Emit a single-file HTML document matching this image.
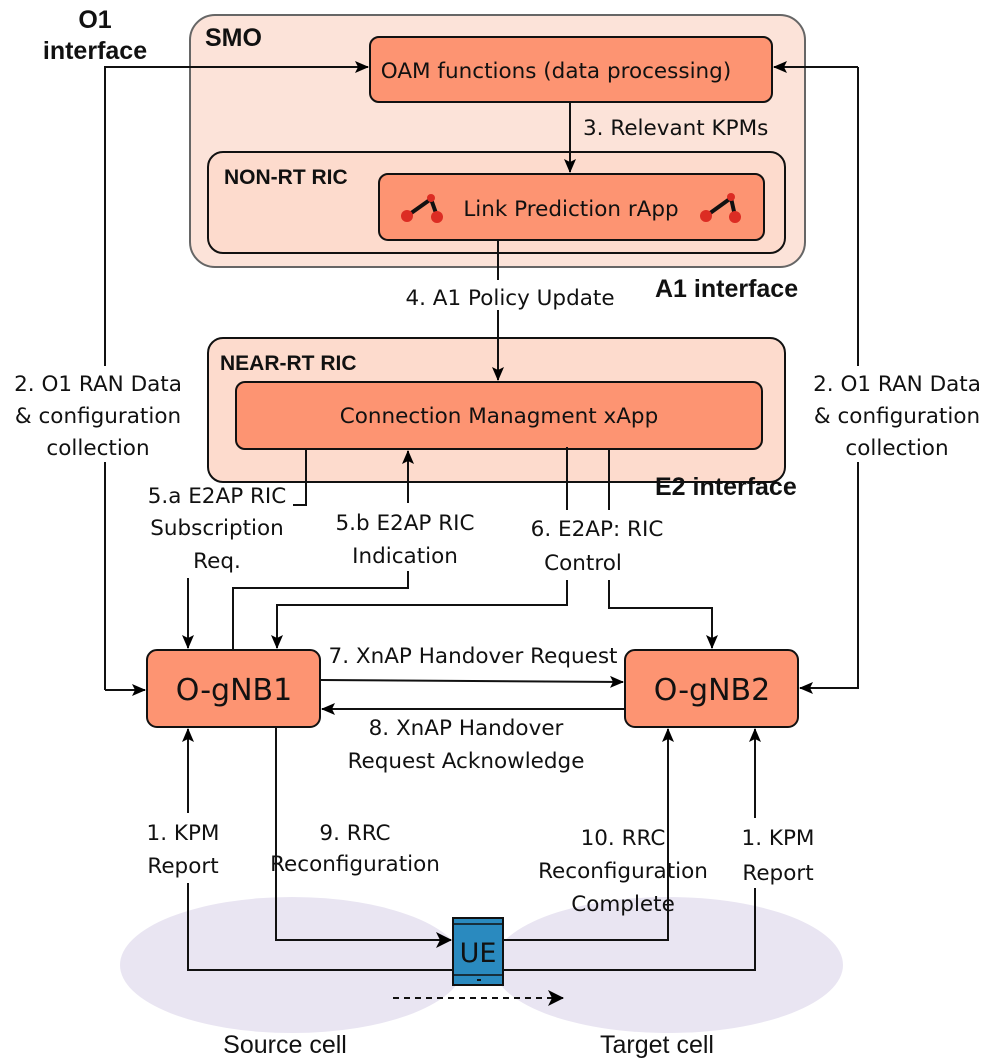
<!DOCTYPE html>
<html><head><meta charset="utf-8"><style>
html,body{margin:0;padding:0;background:#fff}
svg{display:block}
text{font-family:"DejaVu Sans","Liberation Sans",sans-serif;font-size:21.5px;fill:#111}
.b{font-family:"Liberation Sans",sans-serif;font-weight:bold;font-size:25px}
.c{text-anchor:middle}
.w{font-family:"Liberation Sans",sans-serif;font-size:25px}
</style></head><body>
<svg width="996" height="1061" viewBox="0 0 996 1061" xmlns="http://www.w3.org/2000/svg">
<defs>
<marker id="a" markerWidth="14" markerHeight="14" refX="13" refY="7" orient="auto" markerUnits="userSpaceOnUse"><path d="M0,1 L14,7 L0,13 L3,7 z" fill="#000"/></marker>
<marker id="h" markerWidth="16" markerHeight="16" refX="15" refY="8" orient="auto" markerUnits="userSpaceOnUse"><path d="M0,0 L16,8 L0,16 L4,8 z" fill="#000"/></marker>
</defs>
<ellipse cx="292" cy="965" rx="172" ry="68" fill="#e9e5f2"/>
<ellipse cx="668" cy="965" rx="175" ry="68" fill="#e9e5f2"/>
<rect x="190" y="15" width="615" height="252" rx="25" fill="#fce3d9" stroke="#666" stroke-width="2"/>
<rect x="370" y="37" width="402" height="65" rx="9" fill="#fd9472" stroke="#111" stroke-width="2"/>
<rect x="208" y="152" width="577" height="101" rx="15" fill="#fddbcd" stroke="#111" stroke-width="2"/>
<rect x="379" y="174" width="385" height="66" rx="9" fill="#fd9472" stroke="#111" stroke-width="2"/>
<rect x="208" y="338" width="577" height="144" rx="15" fill="#fddbcd" stroke="#111" stroke-width="2"/>
<rect x="236" y="382" width="526" height="67" rx="9" fill="#fd9472" stroke="#111" stroke-width="2"/>
<rect x="147" y="650" width="173" height="77" rx="10" fill="#fd9472" stroke="#111" stroke-width="2"/>
<rect x="625" y="650" width="173" height="77" rx="10" fill="#fd9472" stroke="#111" stroke-width="2"/>
<text x="205" y="46" class="b">SMO</text>
<text x="224" y="184" class="b" style="font-size:21px">NON-RT RIC</text>
<text x="220" y="370" class="b" style="font-size:21px">NEAR-RT RIC</text>
<text x="95" y="28" class="b c">O1</text>
<text x="95" y="59" class="b c">interface</text>
<text x="655" y="297" class="b">A1 interface</text>
<text x="655" y="495" class="b">E2 interface</text>
<text x="556" y="78" class="c">OAM functions (data processing)</text>
<text x="571" y="216" class="c">Link Prediction rApp</text>
<text x="499" y="423" class="c">Connection Managment xApp</text>
<text x="234" y="700" class="c" style="font-size:30px">O-gNB1</text>
<text x="712" y="700" class="c" style="font-size:30px">O-gNB2</text>
<g stroke="#111" stroke-width="4"><line x1="407" y1="216" x2="431" y2="199"/><line x1="431" y1="199" x2="437" y2="216"/><line x1="706" y1="216" x2="731" y2="198"/><line x1="731" y1="198" x2="735" y2="216"/></g>
<g fill="#dc2c23"><circle cx="407" cy="216" r="6"/><circle cx="431" cy="198" r="4"/><circle cx="437" cy="217" r="6"/><circle cx="706" cy="216" r="6"/><circle cx="731" cy="197" r="4"/><circle cx="735" cy="217" r="6"/></g>
<g fill="none" stroke="#111" stroke-width="2">
<path d="M105,690 V67 H368" marker-end="url(#a)"/>
<path d="M105,690 H145" marker-end="url(#a)"/>
<path d="M858,67 H774" marker-end="url(#a)"/>
<path d="M858,67 V688 H800" marker-end="url(#a)"/>
<path d="M570,102 V172" marker-end="url(#a)"/>
<path d="M498,240 V380" marker-end="url(#a)"/>
<path d="M306,449 V505 H293"/>
<path d="M188,578 V648" marker-end="url(#a)"/>
<path d="M233,650 V588 H408 V451" marker-end="url(#a)"/>
<path d="M567,447 V514"/>
<path d="M567,580 V605 H277 V648" marker-end="url(#a)"/>
<path d="M609,449 V514"/>
<path d="M609,580 V608 H712 V648" marker-end="url(#a)"/>
<path d="M320,680 L623,682" marker-end="url(#a)"/>
<path d="M625,709 H322" marker-end="url(#a)"/>
<path d="M453,970 H188 V729" marker-end="url(#a)"/>
<path d="M276,727 V940 H451" marker-end="url(#h)"/>
<path d="M503,940 H668 V729" marker-end="url(#a)"/>
<path d="M503,970 H755 V729" marker-end="url(#a)"/>
<path d="M393,998 H563" stroke-dasharray="6,5" marker-end="url(#h)"/>
</g>
<g fill="#fff">
<rect x="5" y="366" width="185" height="96"/>
<rect x="805" y="366" width="185" height="96"/>
<rect x="130" y="813" width="105" height="70"/>
<rect x="725" y="818" width="110" height="70"/>
<rect x="395" y="280" width="230" height="30"/>
<rect x="530" y="510" width="135" height="70"/>
<rect x="325" y="503" width="160" height="68"/>
</g>
<text x="98" y="391" class="c">2. O1 RAN Data</text>
<text x="98" y="423" class="c">&amp; configuration</text>
<text x="98" y="455" class="c">collection</text>
<text x="897" y="391" class="c">2. O1 RAN Data</text>
<text x="897" y="423" class="c">&amp; configuration</text>
<text x="897" y="455" class="c">collection</text>
<text x="583" y="135">3. Relevant KPMs</text>
<text x="510" y="305" class="c">4. A1 Policy Update</text>
<text x="217" y="503" class="c">5.a E2AP RIC</text>
<text x="217" y="535" class="c">Subscription</text>
<text x="217" y="568" class="c">Req.</text>
<text x="405" y="530" class="c">5.b E2AP RIC</text>
<text x="405" y="563" class="c">Indication</text>
<text x="597" y="536" class="c">6. E2AP: RIC</text>
<text x="583" y="570" class="c">Control</text>
<text x="473" y="663" class="c">7. XnAP Handover Request</text>
<text x="466" y="735" class="c">8. XnAP Handover</text>
<text x="466" y="768" class="c">Request Acknowledge</text>
<text x="183" y="840" class="c">1. KPM</text>
<text x="183" y="873" class="c">Report</text>
<text x="355" y="840" class="c">9. RRC</text>
<text x="355" y="871" class="c">Reconfiguration</text>
<text x="623" y="845" class="c">10.  RRC</text>
<text x="623" y="878" class="c">Reconfiguration</text>
<text x="623" y="911" class="c">Complete</text>
<text x="778" y="845" class="c">1. KPM</text>
<text x="778" y="880" class="c">Report</text>
<rect x="453" y="918" width="50" height="67" fill="#2a8abf" stroke="#111" stroke-width="2"/>
<line x1="453" y1="924" x2="503" y2="924" stroke="#111" stroke-width="1.5"/>
<line x1="453" y1="975" x2="503" y2="975" stroke="#111" stroke-width="1.5"/>
<rect x="477" y="979" width="4" height="2" fill="#111"/>
<text x="478" y="962" class="c" style="font-size:27px">UE</text>
<text x="285" y="1053" class="c w">Source cell</text>
<text x="657" y="1053" class="c w">Target cell</text>
</svg>
</body></html>
